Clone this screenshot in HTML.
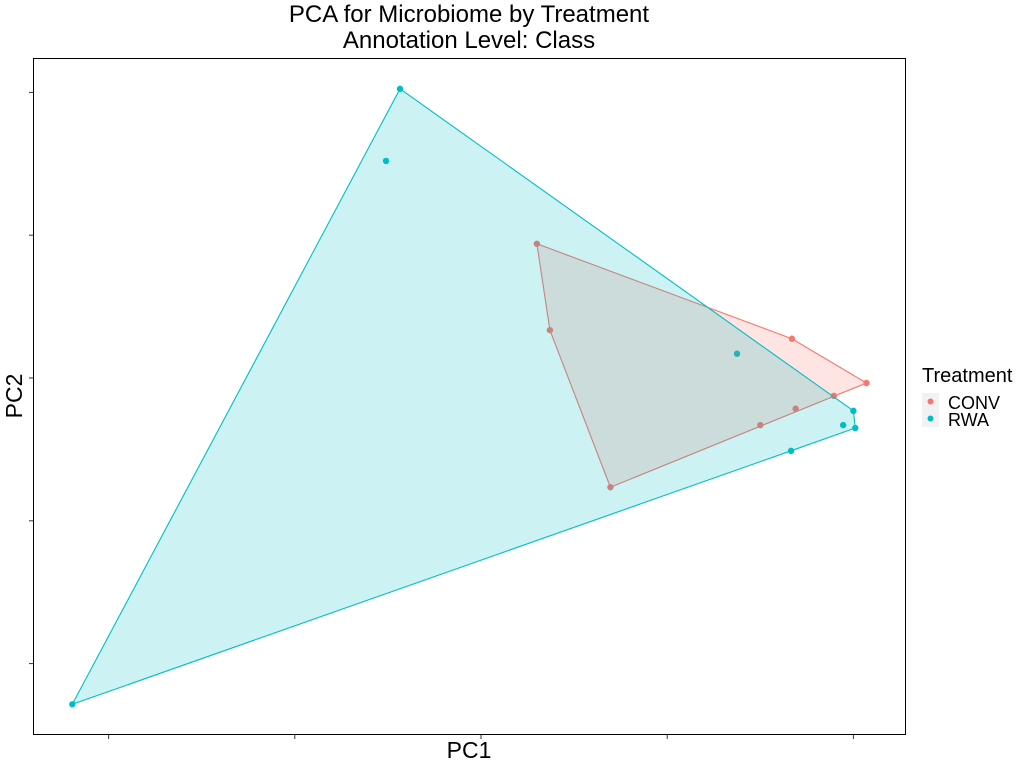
<!DOCTYPE html>
<html><head><meta charset="utf-8"><style>
body{margin:0;background:#fff;font-family:"Liberation Sans",sans-serif}
svg{display:block}
</style></head><body>
<svg id="chart" width="1024" height="768" xmlns="http://www.w3.org/2000/svg">
<text x="469" y="22" text-anchor="middle" font-size="24" font-family="Liberation Sans">PCA for Microbiome by Treatment</text>
<text x="469" y="48" text-anchor="middle" font-size="24" font-family="Liberation Sans">Annotation Level: Class</text>
<rect x="33.5" y="58.5" width="872" height="676" fill="#fff" stroke="#000" stroke-width="1"/>
<g id="ticks"></g>
<g id="points"></g>
<g id="hulls"></g>
<text x="469" y="758" text-anchor="middle" font-size="23" font-family="Liberation Sans">PC1</text>
<text transform="translate(22,396) rotate(-90)" text-anchor="middle" font-size="23" font-family="Liberation Sans">PC2</text>
<g>
<text x="922" y="382" font-size="20" font-family="Liberation Sans">Treatment</text>
<rect x="922" y="393" width="17" height="17" fill="#f2f2f2"/>
<circle cx="930.5" cy="401.5" r="3" fill="#F8766D"/>
<text x="948" y="409" font-size="18" font-family="Liberation Sans">CONV</text>
<rect x="922" y="410" width="17" height="17" fill="#f2f2f2"/>
<circle cx="930.5" cy="418.5" r="3" fill="#00BFC4"/>
<text x="948" y="426" font-size="18" font-family="Liberation Sans">RWA</text>
</g>
</svg>
<script>
const xTicks=[-4,-2,0,2,4];
const yTicks=[4,2,0,-2,-4];
const rwaX=[-0.87,-1.02,-4.39,2.75,4.0,4.02,3.89,3.33];
const rwaY=[4.05,3.04,-4.57,0.34,-0.46,-0.70,-0.66,-1.02];
const convX=[0.60,0.74,1.39,3.34,4.14,3.79,3.38,3.0];
const convY=[1.88,0.67,-1.53,0.55,-0.07,-0.25,-0.43,-0.66];
const NS="http://www.w3.org/2000/svg";
function sx(v){return 481+v*93.1;}
function sy(v){return 378-v*71.4;}
const tg=document.getElementById('ticks');
xTicks.forEach(t=>{const l=document.createElementNS(NS,'line');


l.setAttribute('x1',sx(t));l.setAttribute('x2',sx(t));l.setAttribute('y1',735);l.setAttribute('y2',739);l.setAttribute('stroke','#333');tg.appendChild(l);});
yTicks.forEach(t=>{const l=document.createElementNS(NS,'line');


l.setAttribute('y1',sy(t));l.setAttribute('y2',sy(t));l.setAttribute('x1',29);l.setAttribute('x2',33);l.setAttribute('stroke','#333');tg.appendChild(l);});
function hull(p){p=p.slice().sort((a,b)=>a[0]-b[0]||a[1]-b[1]);const cr=(o,a,b)=>(a[0]-o[0])*(b[1]-o[1])-(a[1]-o[1])*(b[0]-o[0]);
const lo=[],up=[];for(const q of p){while(lo.length>=2&&cr(lo[lo.length-2],lo[lo.length-1],q)<=0)lo.pop();lo.push(q);}
for(const q of p.slice().reverse()){while(up.length>=2&&cr(up[up.length-2],up[up.length-1],q)<=0)up.pop();up.push(q);}
up.pop();lo.pop();return lo.concat(up);}
const pg=document.getElementById('points'),hg=document.getElementById('hulls');
function series(xs,ys,col,name){
const pts=xs.map((x,i)=>[sx(x),sy(ys[i])]);
pts.forEach(p=>{const c=document.createElementNS(NS,'circle');


c.setAttribute('cx',p[0]);c.setAttribute('cy',p[1]);c.setAttribute('r',3.2);c.setAttribute('fill',col);pg.appendChild(c);});
const h=hull(pts);const poly=document.createElementNS(NS,'polygon');


poly.setAttribute('points',h.map(p=>p.join(',')).join(' '));poly.setAttribute('fill',col);poly.setAttribute('fill-opacity',0.2);poly.setAttribute('stroke',col);poly.setAttribute('stroke-width',1.1);hg.appendChild(poly);}
series(convX,convY,'#F8766D','conv');
series(rwaX,rwaY,'#00BFC4','rwa');
</script>
</body></html>
